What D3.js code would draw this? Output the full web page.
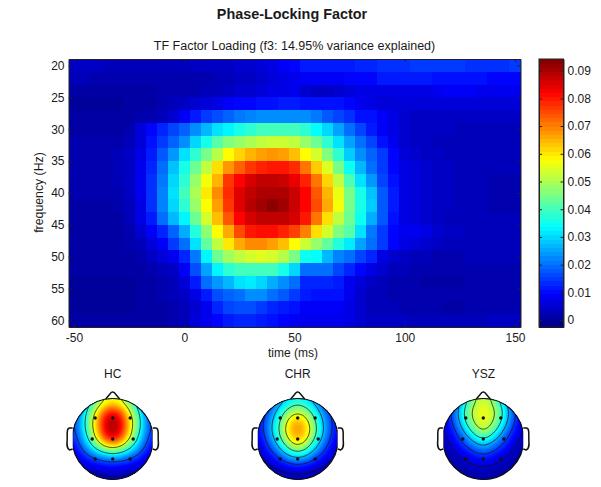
<!DOCTYPE html>
<html>
<head>
<meta charset="utf-8">
<script src="https://cdn.jsdelivr.net/npm/d3@7"></script>
<style>
  html, body { margin: 0; padding: 0; background: #fff; }
  svg { display: block; }
  text { font-family: "Liberation Sans", Arial, sans-serif; fill: #1a1a1a; }
</style>
</head>
<body>
<svg width="601" height="487"></svg>
<script>
var mainTitle = 'Phase-Locking Factor';
var subTitle = 'TF Factor Loading (f3: 14.95% variance explained)';
var xTicks = [-50, 0, 50, 100, 150];
var yTicks = [20, 25, 30, 35, 40, 45, 50, 55, 60];
var barTicks = [0, 10, 20, 30, 40, 50, 60, 70, 80, 90];
var times = d3.range(-50, 155, 5);
var freqs = d3.range(20, 62, 2);

// factor loading in thousandths, one row per frequency
var loading = [
  [4,4,4,3,3,3,3,3,3,3,3,4,4,4,4,5,5,6,7,9,10, 12,12,12,12,12,13,13,14,14,14,15,15,15,15,15,14,14,14,14,15],
  [3,3,2,2,2,2,2,2,2,2,2,2,2,3,3,4,4,5,6,7,8, 9,9,9,9,10,10,10,12,12,12,12,12,11,11,11,11,11,10,10,10],
  [1,1,1,1,1,1,1,1,2,2,2,2,3,3,4,5,5,6,7,7,8, 5,4,4,5,6,7,7,7,7,7,7,7,8,9,9,9,8,8,8,8],
  [0,0,0,0,0,1,1,1,2,3,4,5,6,7,9,10,10,11,11,12,12, 11,11,11,11,10,8,7,6,6,6,6,6,6,6,6,6,6,6,6,6],
  [1,1,1,1,1,1,2,2,3,5,9,12,15,17,19,21,22,23,23,23,23, 23,21,18,16,14,11,11,9,7,5,4,4,4,4,4,4,4,4,4,4],
  [1,1,1,1,1,2,6,10,13,16,19,23,27,31,33,36,38,40,40,40,40, 38,34,30,25,20,16,12,9,7,5,4,4,4,4,3,3,3,3,3,3],
  [2,2,2,2,2,3,6,11,15,19,23,30,36,42,46,48,50,52,53,53,52, 48,44,38,31,25,20,16,11,8,5,4,4,3,3,3,3,3,3,3,3],
  [2,2,2,2,3,4,7,12,18,24,31,38,45,51,58,62,65,67,68,67,64, 58,54,46,38,29,23,19,15,10,6,5,4,4,3,3,3,3,3,3,3],
  [2,2,2,2,3,4,8,13,20,28,36,44,52,61,68,73,77,79,80,80,78, 71,63,55,45,35,27,20,15,10,7,6,5,4,4,3,3,3,3,3,3],
  [2,2,2,2,3,4,8,14,21,30,38,48,57,65,77,82,86,88,88,87,84, 79,71,62,52,41,31,24,16,11,7,6,5,4,4,3,3,3,2,2,2],
  [2,2,2,2,2,4,8,14,22,31,40,50,60,69,78,85,88,90,90,90,87, 82,74,65,56,45,36,28,18,12,7,6,5,4,4,3,3,3,2,2,2],
  [1,1,1,1,2,3,7,14,22,30,38,48,58,67,77,85,89,91,93,91,87, 82,75,66,57,45,36,29,18,12,7,6,5,4,4,3,3,3,2,2,2],
  [1,1,1,1,1,3,7,12,20,27,33,44,54,64,74,82,86,88,88,88,86, 80,71,61,52,44,35,26,18,11,7,6,5,4,3,3,3,3,3,3,3],
  [1,1,1,1,1,2,5,9,13,19,26,37,47,58,66,75,80,81,81,79,76, 70,61,54,46,42,31,21,15,10,8,8,7,5,4,4,3,3,3,3,3],
  [1,1,1,1,1,2,3,6,9,15,20,31,43,52,60,66,69,69,67,64,58, 53,48,43,37,32,25,20,15,10,7,6,5,4,3,3,3,3,3,3,3],
  [1,1,1,1,1,1,2,4,6,8,13,21,33,44,49,52,54,55,54,51,45, 35,34,27,22,20,16,13,7,5,4,3,3,2,2,2,3,3,3,3,3],
  [1,1,1,1,1,1,1,2,3,4,9,17,25,33,38,40,40,40,40,36,30, 20,20,20,16,13,10,7,5,3,3,2,2,2,2,2,2,2,2,2,2],
  [0,0,0,0,0,0,1,1,2,3,6,12,20,24,27,31,32,30,26,23,20, 13,13,13,12,8,6,4,3,2,2,2,1,1,1,1,2,2,2,2,2],
  [0,0,0,0,0,0,1,1,2,3,4,7,12,17,19,20,23,23,20,18,15, 12,11,11,11,8,5,3,3,2,2,2,2,2,2,2,2,2,2,2,2],
  [0,0,0,0,0,0,1,1,1,2,3,5,8,13,16,17,17,15,13,12,11, 9,9,9,9,7,5,3,3,3,2,2,2,2,1,1,2,2,2,2,2],
  [1,1,1,1,1,1,1,1,1,2,3,6,8,10,12,13,13,12,11,10,9, 8,8,8,8,7,5,4,4,4,4,3,3,3,3,3,3,3,4,4,4]
];

// scalp maps, 11 x 11 grid over the head box, also in thousandths
var hcMap = [
  [6,16,30,44,52,56,52,44,30,16,6],
  [8,22,38,52,66,72,66,52,38,22,8],
  [10,26,44,62,82,92,82,62,44,26,10],
  [12,28,46,66,86,97,86,66,46,28,12],
  [12,26,44,64,85,96,85,64,44,26,12],
  [10,22,38,58,76,88,76,58,38,22,10],
  [8,17,29,42,54,60,54,42,29,17,8],
  [6,11,18,24,30,32,30,24,18,11,6],
  [4,7,9,11,13,14,13,11,9,7,4],
  [1,3,4,5,6,6,6,5,4,3,1],
  [-1,0,1,1,2,2,2,1,1,0,-1]
];
var chrMap = [
  [3,9,16,24,30,33,30,24,16,9,3],
  [5,13,22,33,43,47,43,33,22,13,5],
  [7,17,28,41,54,60,54,41,28,17,7],
  [8,19,31,47,64,71,64,47,31,19,8],
  [8,19,32,49,66,72,66,49,32,19,8],
  [6,16,28,44,60,68,60,44,28,16,6],
  [5,12,21,33,48,57,48,33,21,12,5],
  [3,8,14,22,31,36,31,22,14,8,3],
  [1,4,7,11,15,18,15,11,7,4,1],
  [0,1,3,4,6,7,6,4,3,1,0],
  [-2,-1,0,0,1,1,1,0,0,-1,-2]
];
var yszMap = [
  [4,12,22,36,50,54,50,36,22,12,4],
  [6,15,28,44,55,58,55,44,28,15,6],
  [6,16,29,46,56,60,56,46,29,16,6],
  [5,14,26,42,53,59,53,42,26,14,5],
  [4,11,20,32,46,54,46,32,20,11,4],
  [3,8,15,23,32,40,32,23,15,8,3],
  [2,5,10,16,21,26,21,16,10,5,2],
  [1,3,6,9,13,16,13,9,6,3,1],
  [0,1,3,5,7,8,7,5,3,1,0],
  [-1,0,1,2,3,4,3,2,1,0,-1],
  [-2,-1,0,0,1,1,1,0,0,-1,-2]
];
var heads = [
  { name: 'HC',  grid: hcMap,  cx: 112.7, levels: [55, 37, 18, 4] },
  { name: 'CHR', grid: chrMap, cx: 297.7, levels: [55, 42, 29, 16, 5] },
  { name: 'YSZ', grid: yszMap, cx: 483.3, levels: [50, 38, 27, 16, 6] }
];
var electrodes = [
  [-17.5, -21], [0, -21], [17.5, -21],
  [-20.5, 0], [0, 0], [20.5, 0],
  [-17.5, 20], [0, 20], [17.5, 20]
];

// matlab jet colormap
function jet(t) {
  var c = function(v) { return Math.round(255 * Math.max(0, Math.min(1, v))); };
  var r = 1.5 - Math.abs(4 * t - 3);
  var g = 1.5 - Math.abs(4 * t - 2);
  var b = 1.5 - Math.abs(4 * t - 1);
  return 'rgb(' + [c(r), c(g), c(b)] + ')';
}

var svg = d3.select('svg');
var plot = { left: 68.5, right: 520.5, top: 59, bottom: 327 };
var bar = { left: 539, right: 563.5 };

var x = d3.scaleLinear().domain([-52.5, 152.5]).range([plot.left, plot.right]);
var y = d3.scaleLinear().domain([19, 61]).range([plot.top, plot.bottom]);
var color = d3.scaleSequential(jet).domain([-2.5, 94.2]);

// heat map
var cells = [];
loading.forEach(function(row, j) {
  row.forEach(function(v, i) {
    cells.push({ t: times[i], f: freqs[j], v: v });
  });
});
svg.append('g').attr('shape-rendering', 'crispEdges').selectAll('rect')
  .data(cells).enter().append('rect')
  .attr('x', function(d) { return x(d.t - 2.5); })
  .attr('y', function(d) { return y(d.f - 1); })
  .attr('width', x(5) - x(0) + 0.5)
  .attr('height', y(2) - y(0) + 0.5)
  .attr('fill', function(d) { return color(d.v); });

function styleAxis(g) {
  g.selectAll('path').attr('stroke', '#222').attr('stroke-width', 1);
  g.selectAll('line').attr('stroke', '#222');
  g.selectAll('text').attr('font-size', 12).style('font-family', '"Liberation Sans", Arial, sans-serif');
}

svg.append('g').attr('transform', 'translate(0,' + plot.bottom + ')')
  .call(d3.axisBottom(x).tickValues(xTicks).tickFormat(String).tickSizeInner(-3).tickSizeOuter(0).tickPadding(6))
  .call(styleAxis);
svg.append('g').attr('transform', 'translate(0,' + plot.top + ')')
  .call(d3.axisTop(x).tickValues(xTicks).tickFormat('').tickSizeInner(-3).tickSizeOuter(0))
  .call(styleAxis);
svg.append('g').attr('transform', 'translate(' + plot.left + ',0)')
  .call(d3.axisLeft(y).tickValues(yTicks).tickSizeInner(-3).tickSizeOuter(0).tickPadding(4))
  .call(styleAxis);
svg.append('g').attr('transform', 'translate(' + plot.right + ',0)')
  .call(d3.axisRight(y).tickValues(yTicks).tickFormat('').tickSizeInner(-3).tickSizeOuter(0))
  .call(styleAxis);

// colour bar
var barY = d3.scaleLinear().domain([-2.5, 94.2]).range([plot.bottom, plot.top]);
var barLevels = d3.range(64);
svg.append('g').attr('shape-rendering', 'crispEdges').selectAll('rect')
  .data(barLevels).enter().append('rect')
  .attr('x', bar.left)
  .attr('width', bar.right - bar.left)
  .attr('y', function(d) { return barY(-2.5 + (d + 1) * 96.7 / 64); })
  .attr('height', (plot.bottom - plot.top) / 64 + 0.5)
  .attr('fill', function(d) { return jet((d + 0.5) / 64); });
svg.append('rect')
  .attr('x', bar.left).attr('y', plot.top)
  .attr('width', bar.right - bar.left).attr('height', plot.bottom - plot.top)
  .attr('fill', 'none').attr('stroke', '#222');
svg.append('g').attr('transform', 'translate(' + bar.right + ',0)')
  .call(d3.axisRight(barY).tickValues(barTicks)
    .tickFormat(function(d) { return d === 0 ? '0' : d3.format('.2f')(d / 1000); })
    .tickSizeInner(-3).tickSizeOuter(0).tickPadding(4))
  .call(styleAxis);
svg.append('g').attr('transform', 'translate(' + bar.left + ',0)')
  .call(d3.axisLeft(barY).tickValues(barTicks).tickFormat('').tickSizeInner(-3).tickSizeOuter(0))
  .call(styleAxis);

// titles
svg.append('text').attr('x', 292).attr('y', 19)
  .attr('text-anchor', 'middle').attr('font-size', 14.4).attr('font-weight', 'bold').text(mainTitle);
svg.append('text').attr('x', 294.5).attr('y', 50)
  .attr('text-anchor', 'middle').attr('font-size', 12.5).text(subTitle);
svg.append('text').attr('x', 293).attr('y', 357)
  .attr('text-anchor', 'middle').attr('font-size', 12).text('time (ms)');
svg.append('text').attr('transform', 'translate(43,192.5) rotate(-90)')
  .attr('text-anchor', 'middle').attr('font-size', 12.3).text('frequency (Hz)');

// scalp maps
var headR = 40.5;
var headY = 439;
var up = 4;
var size = 10 * up + 1;
var hx = d3.scaleLinear().domain([0.5, size - 0.5]).range([-40, 40]);
var hy = d3.scaleLinear().domain([0.5, size - 0.5]).range([-40, 40]);
var headPath = d3.geoPath(d3.geoTransform({
  point: function(px, py) { this.stream.point(hx(px), hy(py)); }
}));
var bandLevels = d3.range(-3, 96, 1.5);

// resample the grid so the contours come out round
function resample(grid) {
  var out = new Array(size * size);
  for (var j = 0; j < size; j++) {
    for (var i = 0; i < size; i++) {
      var gx = i / up, gy = j / up;
      var i0 = Math.min(9, Math.floor(gx)), j0 = Math.min(9, Math.floor(gy));
      var fx = gx - i0, fy = gy - j0;
      var top = d3.interpolateNumber(grid[j0][i0], grid[j0][i0 + 1])(fx);
      var low = d3.interpolateNumber(grid[j0 + 1][i0], grid[j0 + 1][i0 + 1])(fx);
      out[j * size + i] = d3.interpolateNumber(top, low)(fy);
    }
  }
  d3.blur2({ data: out, width: size, height: size }, 2);
  return out;
}

heads.forEach(function(h, n) {
  var g = svg.append('g').attr('transform', 'translate(' + h.cx + ',' + headY + ')');
  var values = resample(h.grid);
  var contours = d3.contours().size([size, size]);

  svg.append('text').attr('x', h.cx).attr('y', 378)
    .attr('text-anchor', 'middle').attr('font-size', 12).text(h.name);

  g.append('clipPath').attr('id', 'scalp' + n)
    .append('circle').attr('r', headR);

  var inner = g.append('g').attr('clip-path', 'url(#scalp' + n + ')');
  inner.append('circle').attr('r', headR).attr('fill', color(-2));
  inner.selectAll('path.band')
    .data(contours.thresholds(bandLevels)(values)).enter().append('path')
    .attr('class', 'band')
    .attr('d', headPath)
    .attr('fill', function(d) { return color(d.value); });
  inner.selectAll('path.line')
    .data(contours.thresholds(h.levels)(values)).enter().append('path')
    .attr('class', 'line')
    .attr('d', headPath)
    .attr('fill', 'none')
    .attr('stroke', '#111')
    .attr('stroke-width', 0.7);

  g.append('circle').attr('r', headR)
    .attr('fill', 'none').attr('stroke', '#111').attr('stroke-width', 1.2);

  // nose and ears
  g.append('path')
    .attr('d', 'M-7,-40 L-1.5,-46.5 Q0,-47.5 1.5,-46.5 L7,-40')
    .attr('fill', 'none').attr('stroke', '#111').attr('stroke-width', 1.5);
  g.selectAll('path.ear')
    .data([-1, 1]).enter().append('path')
    .attr('class', 'ear')
    .attr('d', function(s) {
      return 'M' + s * 40 + ',-11 L' + s * 43 + ',-11 C' + s * 46 + ',-11 ' + s * 45.5 + ',-6 ' +
        s * 45.5 + ',0 C' + s * 46 + ',6 ' + s * 46 + ',10 ' + s * 43 + ',11 L' + s * 40 + ',10';
    })
    .attr('fill', '#fff').attr('stroke', '#111').attr('stroke-width', 1.5);

  g.selectAll('circle.site')
    .data(electrodes).enter().append('circle')
    .attr('class', 'site')
    .attr('cx', function(d) { return d[0]; })
    .attr('cy', function(d) { return d[1]; })
    .attr('r', 1.7)
    .attr('fill', '#111');
});
</script>
</body>
</html>
